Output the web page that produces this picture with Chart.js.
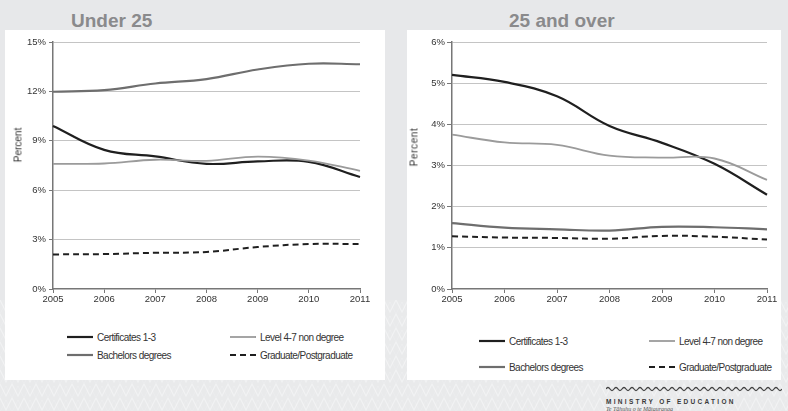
<!DOCTYPE html>
<html>
<head>
<meta charset="utf-8">
<script src="https://cdn.jsdelivr.net/npm/chart.js@4/dist/chart.umd.min.js"></script>
<style>
  html, body { margin: 0; padding: 0; }
  body {
    width: 788px; height: 411px; position: relative; overflow: hidden;
    background: #e7e8ea;
    font-family: "Liberation Sans", Arial, sans-serif;
  }
  .band {
    position: absolute; left: 0; top: 300px; width: 788px; height: 111px;
    background-color: #eaebec;
    background-image: url("data:image/svg+xml;utf8,<svg xmlns='http://www.w3.org/2000/svg' width='24' height='14'><path d='M0 0 L6 12 L12 0 L18 12 L24 0' fill='none' stroke='white' stroke-width='1.2' opacity='0.6'/><path d='M0 14 L6 2 L12 14 L18 2 L24 14' fill='none' stroke='white' stroke-width='0.8' opacity='0.3'/></svg>");
    opacity: 0.7;
  }
  .panel { position: absolute; background: #ffffff; }
  .title {
    position: absolute; top: 10px; font-weight: bold; font-size: 19px;
    color: #8a8a8c; white-space: nowrap;
  }
  canvas { position: absolute; }
  .ytitle {
    position: absolute; font-size: 10px; color: #333; white-space: nowrap;
    transform: translate(-50%, -50%) rotate(-90deg);
  }
  .leg {
    position: absolute; height: 12px; display: flex; align-items: center;
    font-size: 10px; color: #333; letter-spacing: -0.55px; white-space: nowrap;
  }
  .leg svg { margin-right: 4px; }
  .logo { position: absolute; left: 606px; top: 378px; width: 176px; }
  .logo .m { font-size: 6.5px; font-weight: bold; letter-spacing: 2.3px; color: #3a3a3a; margin-top: 2px; }
  .logo .t { font-family: "Liberation Serif", serif; font-style: italic; font-size: 6px; color: #555; margin-top: 1px; }
</style>
</head>
<body>
<div class="band"></div>
<div class="panel" style="left:5px; top:30px; width:380px; height:350px;"></div>
<div class="panel" style="left:407px; top:30px; width:374px; height:350px;"></div>

<div class="title" style="left:71px;">Under 25</div>
<div class="title" style="left:509px;">25 and over</div>

<canvas id="under" width="390" height="280" style="left:0; top:30px; width:390px; height:280px;"></canvas>
<canvas id="over" width="394" height="280" style="left:394px; top:30px; width:394px; height:280px;"></canvas>

<div class="ytitle" style="left:18px; top:145px;">Percent</div>
<div class="ytitle" style="left:414px; top:147px; letter-spacing:0.6px;">Percent</div>

<div id="legUnder"></div>
<div id="legOver"></div>

<div class="logo">
  <svg width="176" height="6"><path id="wave" d="" fill="none" stroke="#444" stroke-width="1.3"/></svg>
  <div class="m">MINISTRY OF EDUCATION</div>
  <div class="t">Te Tāhuhu o te Mātauranga</div>
</div>

<script>
// Years on the horizontal axis
const years = ['2005', '2006', '2007', '2008', '2009', '2010', '2011'];

// Series names
const seriesNames = ['Certificates 1-3', 'Level 4-7 non degree', 'Bachelors degrees', 'Graduate/Postgraduate'];

// Under 25 (percent)
const under25Certificates = [9.9, 8.45, 8.05, 7.6, 7.75, 7.72, 6.8];
const under25Level47 = [7.6, 7.62, 7.85, 7.78, 8.04, 7.8, 7.18];
const under25Bachelors = [11.98, 12.08, 12.48, 12.75, 13.33, 13.68, 13.65];
const under25Graduate = [2.1, 2.12, 2.2, 2.25, 2.55, 2.73, 2.73];

// 25 and over (percent)
const over25Certificates = [5.2, 5.03, 4.68, 3.96, 3.55, 3.04, 2.29];
const over25Level47 = [3.75, 3.56, 3.5, 3.24, 3.19, 3.17, 2.65];
const over25Bachelors = [1.6, 1.49, 1.45, 1.42, 1.51, 1.5, 1.45];
const over25Graduate = [1.28, 1.25, 1.24, 1.22, 1.29, 1.27, 1.2];

// Y tick values
const under25Ticks = [0, 3, 6, 9, 12, 15];
const over25Ticks = [0, 1, 2, 3, 4, 5, 6];

const styles = [
  { color: '#1f1f1f', width: 2.2, dash: [] },
  { color: '#9b9b9b', width: 1.8, dash: [] },
  { color: '#6e6e6e', width: 2.2, dash: [] },
  { color: '#1f1f1f', width: 2.0, dash: [6, 4] }
];

const tickFont = { family: '"Liberation Sans", Arial, sans-serif', size: 9.5 };

function makeChart(id, seriesList, ticks, yAxisWidth, padding, yTickLen, yTickPad) {
  const datasets = seriesList.map((vals, i) => ({
    label: seriesNames[i],
    data: vals,
    borderColor: styles[i].color,
    borderWidth: styles[i].width,
    borderDash: styles[i].dash,
    pointRadius: 0,
    tension: 0.4,
    fill: false
  }));
  datasets.reverse(); // draw Certificates on top
  return new Chart(document.getElementById(id), {
    type: 'line',
    data: { labels: years, datasets },
    options: {
      responsive: false,
      animation: false,
      devicePixelRatio: 1,
      layout: { padding },
      plugins: { legend: { display: false }, tooltip: { enabled: false } },
      scales: {
        x: {
          offset: false,
          grid: { display: true, drawOnChartArea: false, drawTicks: true, tickLength: 4, color: '#777', lineWidth: 1 },
          border: { display: true, color: '#777', width: 1.5 },
          ticks: { font: tickFont, color: '#333', padding: 1, maxRotation: 0, autoSkip: false },
          afterFit: s => { s.height = 21; }
        },
        y: {
          min: ticks[0],
          max: ticks[ticks.length - 1],
          afterBuildTicks: s => { s.ticks = ticks.map(v => ({ value: v })); },
          grid: {
            color: c => (c.tick && c.tick.value === 0 ? 'rgba(0,0,0,0)' : '#c4c4c4'),
            lineWidth: 1,
            borderDash: [1, 2],
            drawTicks: true,
            tickLength: yTickLen,
            tickColor: '#777',
            tickBorderDash: []
          },
          border: { display: true, color: '#777', width: 1.5 },
          ticks: { font: tickFont, color: '#333', padding: yTickPad, callback: v => v + '%' },
          afterFit: s => { s.width = yAxisWidth; }
        }
      }
    }
  });
}

makeChart('under',
  [under25Certificates, under25Level47, under25Bachelors, under25Graduate],
  under25Ticks, 53, { top: 12, right: 30, left: 0, bottom: 0 }, 4, 3);

makeChart('over',
  [over25Certificates, over25Level47, over25Bachelors, over25Graduate],
  over25Ticks, 58, { top: 12, right: 21, left: 0, bottom: 0 }, 5, 2);

// Legends: two columns, two rows
function buildLegend(hostId, cols, rows, lineW) {
  const host = document.getElementById(hostId);
  seriesNames.forEach((name, i) => {
    const el = document.createElement('div');
    el.className = 'leg';
    el.style.left = cols[i % 2] + 'px';
    el.style.top = (rows[Math.floor(i / 2)] - 6) + 'px';
    const st = styles[i];
    const dash = st.dash.length ? ` stroke-dasharray="${st.dash.join(' ')}"` : '';
    el.innerHTML = `<svg width="${lineW}" height="4"><line x1="0" y1="2" x2="${lineW}" y2="2" stroke="${st.color}" stroke-width="${st.width}"${dash}/></svg><span>${name}</span>`;
    host.appendChild(el);
  });
}
buildLegend('legUnder', [67, 230], [337, 355], 26);
buildLegend('legOver', [479, 649], [341, 367], 26);

// Wavy rule in the logo
(function () {
  let d = 'M0 3';
  for (let x = 0; x < 174; x += 8) {
    d += ` Q${x + 2} 0 ${x + 4} 3 T${x + 8} 3`;
  }
  document.getElementById('wave').setAttribute('d', d);
})();
</script>
</body>
</html>
